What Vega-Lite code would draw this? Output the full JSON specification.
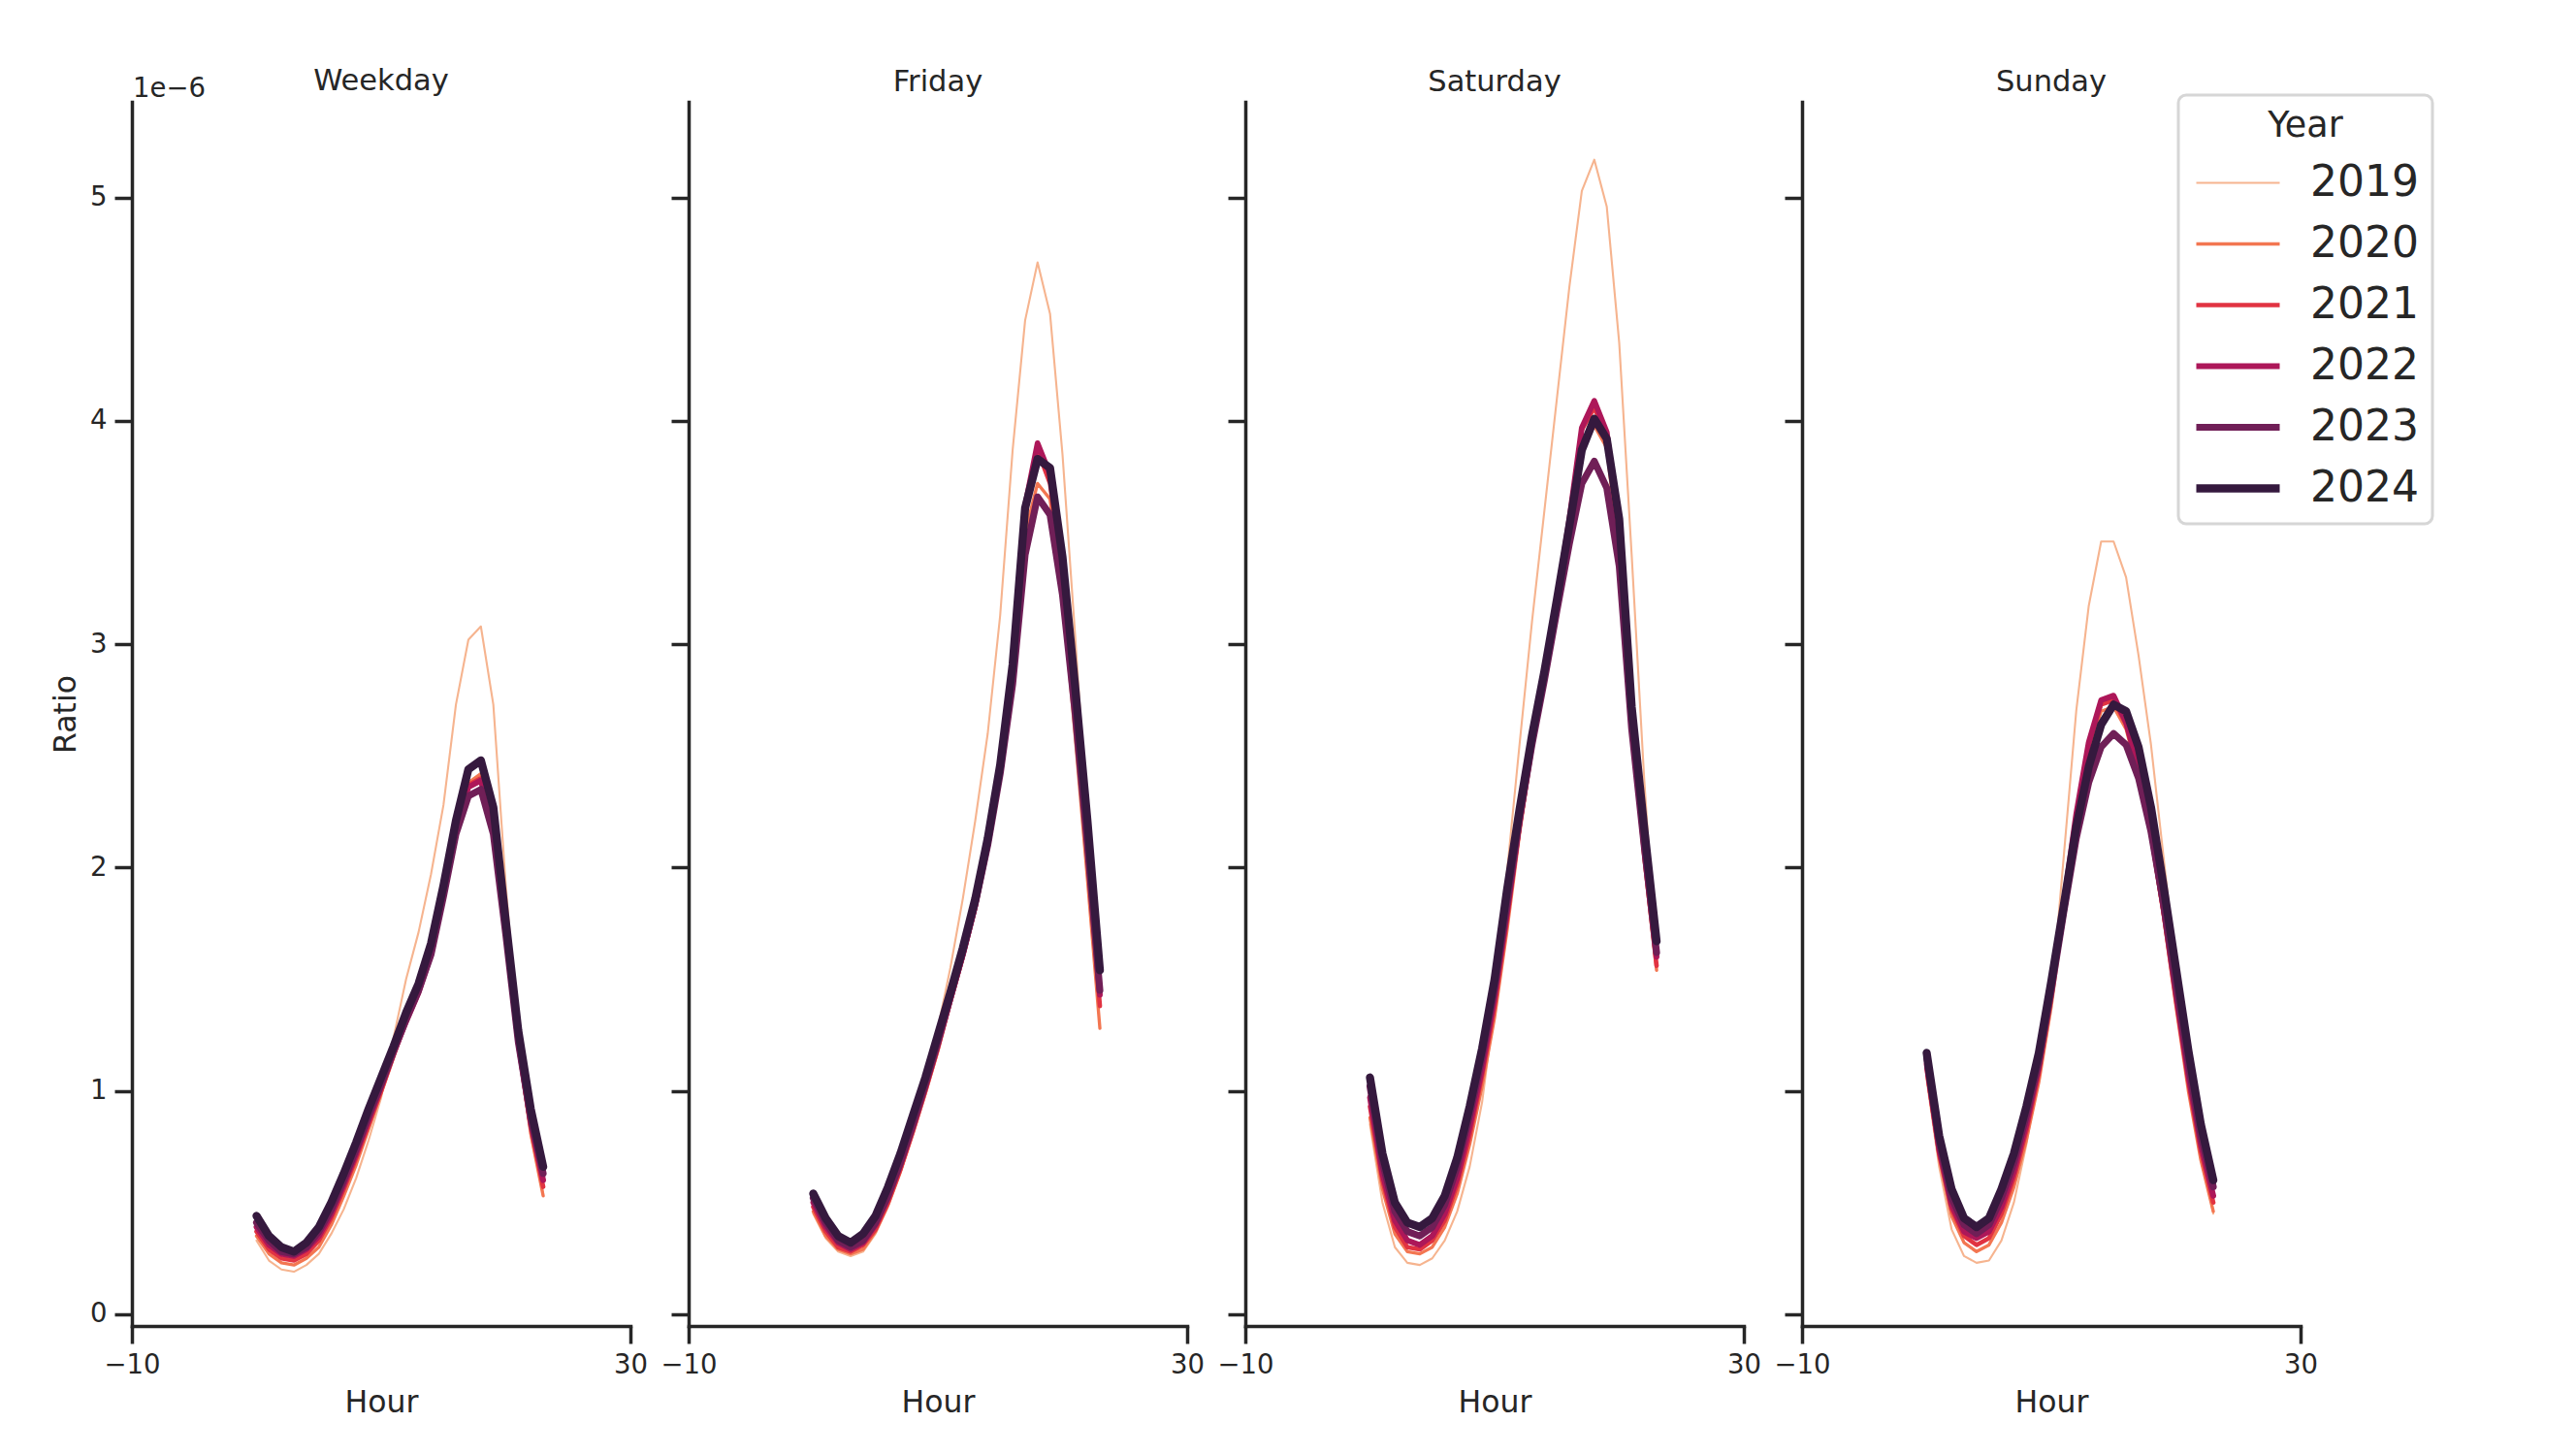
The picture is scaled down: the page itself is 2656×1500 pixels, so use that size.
{
"$schema": "https://vega.github.io/schema/vega-lite/v6.json",
"background": "white",
"padding": {"left": 52, "top": 68, "right": 20, "bottom": 20},
"bounds": "flush",
"spacing": 60,
"data": {"values": [
{"Day":"Weekday","Year":2019,"Hour":0,"Ratio":0.33e-6},{"Day":"Weekday","Year":2019,"Hour":1,"Ratio":0.24e-6},{"Day":"Weekday","Year":2019,"Hour":2,"Ratio":0.20e-6},{"Day":"Weekday","Year":2019,"Hour":3,"Ratio":0.19e-6},{"Day":"Weekday","Year":2019,"Hour":4,"Ratio":0.22e-6},{"Day":"Weekday","Year":2019,"Hour":5,"Ratio":0.27e-6},{"Day":"Weekday","Year":2019,"Hour":6,"Ratio":0.36e-6},{"Day":"Weekday","Year":2019,"Hour":7,"Ratio":0.47e-6},{"Day":"Weekday","Year":2019,"Hour":8,"Ratio":0.61e-6},{"Day":"Weekday","Year":2019,"Hour":9,"Ratio":0.78e-6},{"Day":"Weekday","Year":2019,"Hour":10,"Ratio":0.97e-6},{"Day":"Weekday","Year":2019,"Hour":11,"Ratio":1.24e-6},{"Day":"Weekday","Year":2019,"Hour":12,"Ratio":1.50e-6},{"Day":"Weekday","Year":2019,"Hour":13,"Ratio":1.71e-6},{"Day":"Weekday","Year":2019,"Hour":14,"Ratio":1.97e-6},{"Day":"Weekday","Year":2019,"Hour":15,"Ratio":2.28e-6},{"Day":"Weekday","Year":2019,"Hour":16,"Ratio":2.73e-6},{"Day":"Weekday","Year":2019,"Hour":17,"Ratio":3.02e-6},{"Day":"Weekday","Year":2019,"Hour":18,"Ratio":3.08e-6},{"Day":"Weekday","Year":2019,"Hour":19,"Ratio":2.73e-6},{"Day":"Weekday","Year":2019,"Hour":20,"Ratio":1.92e-6},{"Day":"Weekday","Year":2019,"Hour":21,"Ratio":1.25e-6},{"Day":"Weekday","Year":2019,"Hour":22,"Ratio":0.80e-6},{"Day":"Weekday","Year":2019,"Hour":23,"Ratio":0.54e-6},
{"Day":"Weekday","Year":2020,"Hour":0,"Ratio":0.35e-6},{"Day":"Weekday","Year":2020,"Hour":1,"Ratio":0.27e-6},{"Day":"Weekday","Year":2020,"Hour":2,"Ratio":0.23e-6},{"Day":"Weekday","Year":2020,"Hour":3,"Ratio":0.22e-6},{"Day":"Weekday","Year":2020,"Hour":4,"Ratio":0.25e-6},{"Day":"Weekday","Year":2020,"Hour":5,"Ratio":0.30e-6},{"Day":"Weekday","Year":2020,"Hour":6,"Ratio":0.40e-6},{"Day":"Weekday","Year":2020,"Hour":7,"Ratio":0.53e-6},{"Day":"Weekday","Year":2020,"Hour":8,"Ratio":0.67e-6},{"Day":"Weekday","Year":2020,"Hour":9,"Ratio":0.83e-6},{"Day":"Weekday","Year":2020,"Hour":10,"Ratio":0.99e-6},{"Day":"Weekday","Year":2020,"Hour":11,"Ratio":1.15e-6},{"Day":"Weekday","Year":2020,"Hour":12,"Ratio":1.31e-6},{"Day":"Weekday","Year":2020,"Hour":13,"Ratio":1.45e-6},{"Day":"Weekday","Year":2020,"Hour":14,"Ratio":1.63e-6},{"Day":"Weekday","Year":2020,"Hour":15,"Ratio":1.90e-6},{"Day":"Weekday","Year":2020,"Hour":16,"Ratio":2.20e-6},{"Day":"Weekday","Year":2020,"Hour":17,"Ratio":2.38e-6},{"Day":"Weekday","Year":2020,"Hour":18,"Ratio":2.42e-6},{"Day":"Weekday","Year":2020,"Hour":19,"Ratio":2.22e-6},{"Day":"Weekday","Year":2020,"Hour":20,"Ratio":1.72e-6},{"Day":"Weekday","Year":2020,"Hour":21,"Ratio":1.19e-6},{"Day":"Weekday","Year":2020,"Hour":22,"Ratio":0.81e-6},{"Day":"Weekday","Year":2020,"Hour":23,"Ratio":0.53e-6},
{"Day":"Weekday","Year":2021,"Hour":0,"Ratio":0.37e-6},{"Day":"Weekday","Year":2021,"Hour":1,"Ratio":0.29e-6},{"Day":"Weekday","Year":2021,"Hour":2,"Ratio":0.25e-6},{"Day":"Weekday","Year":2021,"Hour":3,"Ratio":0.24e-6},{"Day":"Weekday","Year":2021,"Hour":4,"Ratio":0.27e-6},{"Day":"Weekday","Year":2021,"Hour":5,"Ratio":0.33e-6},{"Day":"Weekday","Year":2021,"Hour":6,"Ratio":0.43e-6},{"Day":"Weekday","Year":2021,"Hour":7,"Ratio":0.56e-6},{"Day":"Weekday","Year":2021,"Hour":8,"Ratio":0.70e-6},{"Day":"Weekday","Year":2021,"Hour":9,"Ratio":0.85e-6},{"Day":"Weekday","Year":2021,"Hour":10,"Ratio":1.00e-6},{"Day":"Weekday","Year":2021,"Hour":11,"Ratio":1.16e-6},{"Day":"Weekday","Year":2021,"Hour":12,"Ratio":1.31e-6},{"Day":"Weekday","Year":2021,"Hour":13,"Ratio":1.44e-6},{"Day":"Weekday","Year":2021,"Hour":14,"Ratio":1.61e-6},{"Day":"Weekday","Year":2021,"Hour":15,"Ratio":1.88e-6},{"Day":"Weekday","Year":2021,"Hour":16,"Ratio":2.18e-6},{"Day":"Weekday","Year":2021,"Hour":17,"Ratio":2.37e-6},{"Day":"Weekday","Year":2021,"Hour":18,"Ratio":2.40e-6},{"Day":"Weekday","Year":2021,"Hour":19,"Ratio":2.20e-6},{"Day":"Weekday","Year":2021,"Hour":20,"Ratio":1.72e-6},{"Day":"Weekday","Year":2021,"Hour":21,"Ratio":1.21e-6},{"Day":"Weekday","Year":2021,"Hour":22,"Ratio":0.84e-6},{"Day":"Weekday","Year":2021,"Hour":23,"Ratio":0.57e-6},
{"Day":"Weekday","Year":2022,"Hour":0,"Ratio":0.39e-6},{"Day":"Weekday","Year":2022,"Hour":1,"Ratio":0.31e-6},{"Day":"Weekday","Year":2022,"Hour":2,"Ratio":0.27e-6},{"Day":"Weekday","Year":2022,"Hour":3,"Ratio":0.26e-6},{"Day":"Weekday","Year":2022,"Hour":4,"Ratio":0.29e-6},{"Day":"Weekday","Year":2022,"Hour":5,"Ratio":0.35e-6},{"Day":"Weekday","Year":2022,"Hour":6,"Ratio":0.45e-6},{"Day":"Weekday","Year":2022,"Hour":7,"Ratio":0.58e-6},{"Day":"Weekday","Year":2022,"Hour":8,"Ratio":0.72e-6},{"Day":"Weekday","Year":2022,"Hour":9,"Ratio":0.87e-6},{"Day":"Weekday","Year":2022,"Hour":10,"Ratio":1.02e-6},{"Day":"Weekday","Year":2022,"Hour":11,"Ratio":1.17e-6},{"Day":"Weekday","Year":2022,"Hour":12,"Ratio":1.31e-6},{"Day":"Weekday","Year":2022,"Hour":13,"Ratio":1.44e-6},{"Day":"Weekday","Year":2022,"Hour":14,"Ratio":1.61e-6},{"Day":"Weekday","Year":2022,"Hour":15,"Ratio":1.88e-6},{"Day":"Weekday","Year":2022,"Hour":16,"Ratio":2.17e-6},{"Day":"Weekday","Year":2022,"Hour":17,"Ratio":2.36e-6},{"Day":"Weekday","Year":2022,"Hour":18,"Ratio":2.39e-6},{"Day":"Weekday","Year":2022,"Hour":19,"Ratio":2.19e-6},{"Day":"Weekday","Year":2022,"Hour":20,"Ratio":1.72e-6},{"Day":"Weekday","Year":2022,"Hour":21,"Ratio":1.22e-6},{"Day":"Weekday","Year":2022,"Hour":22,"Ratio":0.86e-6},{"Day":"Weekday","Year":2022,"Hour":23,"Ratio":0.60e-6},
{"Day":"Weekday","Year":2023,"Hour":0,"Ratio":0.41e-6},{"Day":"Weekday","Year":2023,"Hour":1,"Ratio":0.33e-6},{"Day":"Weekday","Year":2023,"Hour":2,"Ratio":0.28e-6},{"Day":"Weekday","Year":2023,"Hour":3,"Ratio":0.27e-6},{"Day":"Weekday","Year":2023,"Hour":4,"Ratio":0.30e-6},{"Day":"Weekday","Year":2023,"Hour":5,"Ratio":0.37e-6},{"Day":"Weekday","Year":2023,"Hour":6,"Ratio":0.47e-6},{"Day":"Weekday","Year":2023,"Hour":7,"Ratio":0.60e-6},{"Day":"Weekday","Year":2023,"Hour":8,"Ratio":0.74e-6},{"Day":"Weekday","Year":2023,"Hour":9,"Ratio":0.89e-6},{"Day":"Weekday","Year":2023,"Hour":10,"Ratio":1.03e-6},{"Day":"Weekday","Year":2023,"Hour":11,"Ratio":1.18e-6},{"Day":"Weekday","Year":2023,"Hour":12,"Ratio":1.32e-6},{"Day":"Weekday","Year":2023,"Hour":13,"Ratio":1.45e-6},{"Day":"Weekday","Year":2023,"Hour":14,"Ratio":1.61e-6},{"Day":"Weekday","Year":2023,"Hour":15,"Ratio":1.87e-6},{"Day":"Weekday","Year":2023,"Hour":16,"Ratio":2.15e-6},{"Day":"Weekday","Year":2023,"Hour":17,"Ratio":2.32e-6},{"Day":"Weekday","Year":2023,"Hour":18,"Ratio":2.35e-6},{"Day":"Weekday","Year":2023,"Hour":19,"Ratio":2.15e-6},{"Day":"Weekday","Year":2023,"Hour":20,"Ratio":1.70e-6},{"Day":"Weekday","Year":2023,"Hour":21,"Ratio":1.22e-6},{"Day":"Weekday","Year":2023,"Hour":22,"Ratio":0.88e-6},{"Day":"Weekday","Year":2023,"Hour":23,"Ratio":0.63e-6},
{"Day":"Weekday","Year":2024,"Hour":0,"Ratio":0.44e-6},{"Day":"Weekday","Year":2024,"Hour":1,"Ratio":0.35e-6},{"Day":"Weekday","Year":2024,"Hour":2,"Ratio":0.30e-6},{"Day":"Weekday","Year":2024,"Hour":3,"Ratio":0.28e-6},{"Day":"Weekday","Year":2024,"Hour":4,"Ratio":0.32e-6},{"Day":"Weekday","Year":2024,"Hour":5,"Ratio":0.39e-6},{"Day":"Weekday","Year":2024,"Hour":6,"Ratio":0.50e-6},{"Day":"Weekday","Year":2024,"Hour":7,"Ratio":0.63e-6},{"Day":"Weekday","Year":2024,"Hour":8,"Ratio":0.77e-6},{"Day":"Weekday","Year":2024,"Hour":9,"Ratio":0.92e-6},{"Day":"Weekday","Year":2024,"Hour":10,"Ratio":1.06e-6},{"Day":"Weekday","Year":2024,"Hour":11,"Ratio":1.20e-6},{"Day":"Weekday","Year":2024,"Hour":12,"Ratio":1.35e-6},{"Day":"Weekday","Year":2024,"Hour":13,"Ratio":1.48e-6},{"Day":"Weekday","Year":2024,"Hour":14,"Ratio":1.66e-6},{"Day":"Weekday","Year":2024,"Hour":15,"Ratio":1.92e-6},{"Day":"Weekday","Year":2024,"Hour":16,"Ratio":2.21e-6},{"Day":"Weekday","Year":2024,"Hour":17,"Ratio":2.44e-6},{"Day":"Weekday","Year":2024,"Hour":18,"Ratio":2.48e-6},{"Day":"Weekday","Year":2024,"Hour":19,"Ratio":2.27e-6},{"Day":"Weekday","Year":2024,"Hour":20,"Ratio":1.76e-6},{"Day":"Weekday","Year":2024,"Hour":21,"Ratio":1.27e-6},{"Day":"Weekday","Year":2024,"Hour":22,"Ratio":0.92e-6},{"Day":"Weekday","Year":2024,"Hour":23,"Ratio":0.66e-6},
{"Day":"Friday","Year":2019,"Hour":0,"Ratio":0.45e-6},{"Day":"Friday","Year":2019,"Hour":1,"Ratio":0.34e-6},{"Day":"Friday","Year":2019,"Hour":2,"Ratio":0.28e-6},{"Day":"Friday","Year":2019,"Hour":3,"Ratio":0.26e-6},{"Day":"Friday","Year":2019,"Hour":4,"Ratio":0.28e-6},{"Day":"Friday","Year":2019,"Hour":5,"Ratio":0.36e-6},{"Day":"Friday","Year":2019,"Hour":6,"Ratio":0.48e-6},{"Day":"Friday","Year":2019,"Hour":7,"Ratio":0.63e-6},{"Day":"Friday","Year":2019,"Hour":8,"Ratio":0.82e-6},{"Day":"Friday","Year":2019,"Hour":9,"Ratio":1.04e-6},{"Day":"Friday","Year":2019,"Hour":10,"Ratio":1.28e-6},{"Day":"Friday","Year":2019,"Hour":11,"Ratio":1.55e-6},{"Day":"Friday","Year":2019,"Hour":12,"Ratio":1.86e-6},{"Day":"Friday","Year":2019,"Hour":13,"Ratio":2.21e-6},{"Day":"Friday","Year":2019,"Hour":14,"Ratio":2.60e-6},{"Day":"Friday","Year":2019,"Hour":15,"Ratio":3.13e-6},{"Day":"Friday","Year":2019,"Hour":16,"Ratio":3.87e-6},{"Day":"Friday","Year":2019,"Hour":17,"Ratio":4.45e-6},{"Day":"Friday","Year":2019,"Hour":18,"Ratio":4.71e-6},{"Day":"Friday","Year":2019,"Hour":19,"Ratio":4.48e-6},{"Day":"Friday","Year":2019,"Hour":20,"Ratio":3.85e-6},{"Day":"Friday","Year":2019,"Hour":21,"Ratio":3.05e-6},{"Day":"Friday","Year":2019,"Hour":22,"Ratio":2.20e-6},{"Day":"Friday","Year":2019,"Hour":23,"Ratio":1.40e-6},
{"Day":"Friday","Year":2020,"Hour":0,"Ratio":0.46e-6},{"Day":"Friday","Year":2020,"Hour":1,"Ratio":0.35e-6},{"Day":"Friday","Year":2020,"Hour":2,"Ratio":0.29e-6},{"Day":"Friday","Year":2020,"Hour":3,"Ratio":0.27e-6},{"Day":"Friday","Year":2020,"Hour":4,"Ratio":0.29e-6},{"Day":"Friday","Year":2020,"Hour":5,"Ratio":0.37e-6},{"Day":"Friday","Year":2020,"Hour":6,"Ratio":0.49e-6},{"Day":"Friday","Year":2020,"Hour":7,"Ratio":0.64e-6},{"Day":"Friday","Year":2020,"Hour":8,"Ratio":0.81e-6},{"Day":"Friday","Year":2020,"Hour":9,"Ratio":0.99e-6},{"Day":"Friday","Year":2020,"Hour":10,"Ratio":1.18e-6},{"Day":"Friday","Year":2020,"Hour":11,"Ratio":1.39e-6},{"Day":"Friday","Year":2020,"Hour":12,"Ratio":1.59e-6},{"Day":"Friday","Year":2020,"Hour":13,"Ratio":1.81e-6},{"Day":"Friday","Year":2020,"Hour":14,"Ratio":2.08e-6},{"Day":"Friday","Year":2020,"Hour":15,"Ratio":2.42e-6},{"Day":"Friday","Year":2020,"Hour":16,"Ratio":2.86e-6},{"Day":"Friday","Year":2020,"Hour":17,"Ratio":3.50e-6},{"Day":"Friday","Year":2020,"Hour":18,"Ratio":3.72e-6},{"Day":"Friday","Year":2020,"Hour":19,"Ratio":3.65e-6},{"Day":"Friday","Year":2020,"Hour":20,"Ratio":3.22e-6},{"Day":"Friday","Year":2020,"Hour":21,"Ratio":2.60e-6},{"Day":"Friday","Year":2020,"Hour":22,"Ratio":1.95e-6},{"Day":"Friday","Year":2020,"Hour":23,"Ratio":1.28e-6},
{"Day":"Friday","Year":2021,"Hour":0,"Ratio":0.48e-6},{"Day":"Friday","Year":2021,"Hour":1,"Ratio":0.37e-6},{"Day":"Friday","Year":2021,"Hour":2,"Ratio":0.30e-6},{"Day":"Friday","Year":2021,"Hour":3,"Ratio":0.28e-6},{"Day":"Friday","Year":2021,"Hour":4,"Ratio":0.31e-6},{"Day":"Friday","Year":2021,"Hour":5,"Ratio":0.38e-6},{"Day":"Friday","Year":2021,"Hour":6,"Ratio":0.50e-6},{"Day":"Friday","Year":2021,"Hour":7,"Ratio":0.65e-6},{"Day":"Friday","Year":2021,"Hour":8,"Ratio":0.82e-6},{"Day":"Friday","Year":2021,"Hour":9,"Ratio":1.00e-6},{"Day":"Friday","Year":2021,"Hour":10,"Ratio":1.19e-6},{"Day":"Friday","Year":2021,"Hour":11,"Ratio":1.40e-6},{"Day":"Friday","Year":2021,"Hour":12,"Ratio":1.60e-6},{"Day":"Friday","Year":2021,"Hour":13,"Ratio":1.82e-6},{"Day":"Friday","Year":2021,"Hour":14,"Ratio":2.09e-6},{"Day":"Friday","Year":2021,"Hour":15,"Ratio":2.43e-6},{"Day":"Friday","Year":2021,"Hour":16,"Ratio":2.89e-6},{"Day":"Friday","Year":2021,"Hour":17,"Ratio":3.60e-6},{"Day":"Friday","Year":2021,"Hour":18,"Ratio":3.87e-6},{"Day":"Friday","Year":2021,"Hour":19,"Ratio":3.72e-6},{"Day":"Friday","Year":2021,"Hour":20,"Ratio":3.30e-6},{"Day":"Friday","Year":2021,"Hour":21,"Ratio":2.70e-6},{"Day":"Friday","Year":2021,"Hour":22,"Ratio":2.05e-6},{"Day":"Friday","Year":2021,"Hour":23,"Ratio":1.38e-6},
{"Day":"Friday","Year":2022,"Hour":0,"Ratio":0.50e-6},{"Day":"Friday","Year":2022,"Hour":1,"Ratio":0.39e-6},{"Day":"Friday","Year":2022,"Hour":2,"Ratio":0.32e-6},{"Day":"Friday","Year":2022,"Hour":3,"Ratio":0.29e-6},{"Day":"Friday","Year":2022,"Hour":4,"Ratio":0.32e-6},{"Day":"Friday","Year":2022,"Hour":5,"Ratio":0.40e-6},{"Day":"Friday","Year":2022,"Hour":6,"Ratio":0.52e-6},{"Day":"Friday","Year":2022,"Hour":7,"Ratio":0.67e-6},{"Day":"Friday","Year":2022,"Hour":8,"Ratio":0.84e-6},{"Day":"Friday","Year":2022,"Hour":9,"Ratio":1.02e-6},{"Day":"Friday","Year":2022,"Hour":10,"Ratio":1.21e-6},{"Day":"Friday","Year":2022,"Hour":11,"Ratio":1.41e-6},{"Day":"Friday","Year":2022,"Hour":12,"Ratio":1.61e-6},{"Day":"Friday","Year":2022,"Hour":13,"Ratio":1.83e-6},{"Day":"Friday","Year":2022,"Hour":14,"Ratio":2.10e-6},{"Day":"Friday","Year":2022,"Hour":15,"Ratio":2.44e-6},{"Day":"Friday","Year":2022,"Hour":16,"Ratio":2.90e-6},{"Day":"Friday","Year":2022,"Hour":17,"Ratio":3.62e-6},{"Day":"Friday","Year":2022,"Hour":18,"Ratio":3.90e-6},{"Day":"Friday","Year":2022,"Hour":19,"Ratio":3.76e-6},{"Day":"Friday","Year":2022,"Hour":20,"Ratio":3.35e-6},{"Day":"Friday","Year":2022,"Hour":21,"Ratio":2.75e-6},{"Day":"Friday","Year":2022,"Hour":22,"Ratio":2.12e-6},{"Day":"Friday","Year":2022,"Hour":23,"Ratio":1.43e-6},
{"Day":"Friday","Year":2023,"Hour":0,"Ratio":0.52e-6},{"Day":"Friday","Year":2023,"Hour":1,"Ratio":0.41e-6},{"Day":"Friday","Year":2023,"Hour":2,"Ratio":0.33e-6},{"Day":"Friday","Year":2023,"Hour":3,"Ratio":0.30e-6},{"Day":"Friday","Year":2023,"Hour":4,"Ratio":0.33e-6},{"Day":"Friday","Year":2023,"Hour":5,"Ratio":0.41e-6},{"Day":"Friday","Year":2023,"Hour":6,"Ratio":0.53e-6},{"Day":"Friday","Year":2023,"Hour":7,"Ratio":0.68e-6},{"Day":"Friday","Year":2023,"Hour":8,"Ratio":0.85e-6},{"Day":"Friday","Year":2023,"Hour":9,"Ratio":1.03e-6},{"Day":"Friday","Year":2023,"Hour":10,"Ratio":1.22e-6},{"Day":"Friday","Year":2023,"Hour":11,"Ratio":1.42e-6},{"Day":"Friday","Year":2023,"Hour":12,"Ratio":1.62e-6},{"Day":"Friday","Year":2023,"Hour":13,"Ratio":1.84e-6},{"Day":"Friday","Year":2023,"Hour":14,"Ratio":2.10e-6},{"Day":"Friday","Year":2023,"Hour":15,"Ratio":2.42e-6},{"Day":"Friday","Year":2023,"Hour":16,"Ratio":2.82e-6},{"Day":"Friday","Year":2023,"Hour":17,"Ratio":3.40e-6},{"Day":"Friday","Year":2023,"Hour":18,"Ratio":3.66e-6},{"Day":"Friday","Year":2023,"Hour":19,"Ratio":3.58e-6},{"Day":"Friday","Year":2023,"Hour":20,"Ratio":3.22e-6},{"Day":"Friday","Year":2023,"Hour":21,"Ratio":2.70e-6},{"Day":"Friday","Year":2023,"Hour":22,"Ratio":2.10e-6},{"Day":"Friday","Year":2023,"Hour":23,"Ratio":1.45e-6},
{"Day":"Friday","Year":2024,"Hour":0,"Ratio":0.54e-6},{"Day":"Friday","Year":2024,"Hour":1,"Ratio":0.43e-6},{"Day":"Friday","Year":2024,"Hour":2,"Ratio":0.35e-6},{"Day":"Friday","Year":2024,"Hour":3,"Ratio":0.32e-6},{"Day":"Friday","Year":2024,"Hour":4,"Ratio":0.36e-6},{"Day":"Friday","Year":2024,"Hour":5,"Ratio":0.44e-6},{"Day":"Friday","Year":2024,"Hour":6,"Ratio":0.57e-6},{"Day":"Friday","Year":2024,"Hour":7,"Ratio":0.72e-6},{"Day":"Friday","Year":2024,"Hour":8,"Ratio":0.89e-6},{"Day":"Friday","Year":2024,"Hour":9,"Ratio":1.06e-6},{"Day":"Friday","Year":2024,"Hour":10,"Ratio":1.25e-6},{"Day":"Friday","Year":2024,"Hour":11,"Ratio":1.44e-6},{"Day":"Friday","Year":2024,"Hour":12,"Ratio":1.64e-6},{"Day":"Friday","Year":2024,"Hour":13,"Ratio":1.86e-6},{"Day":"Friday","Year":2024,"Hour":14,"Ratio":2.13e-6},{"Day":"Friday","Year":2024,"Hour":15,"Ratio":2.46e-6},{"Day":"Friday","Year":2024,"Hour":16,"Ratio":2.91e-6},{"Day":"Friday","Year":2024,"Hour":17,"Ratio":3.61e-6},{"Day":"Friday","Year":2024,"Hour":18,"Ratio":3.83e-6},{"Day":"Friday","Year":2024,"Hour":19,"Ratio":3.79e-6},{"Day":"Friday","Year":2024,"Hour":20,"Ratio":3.39e-6},{"Day":"Friday","Year":2024,"Hour":21,"Ratio":2.82e-6},{"Day":"Friday","Year":2024,"Hour":22,"Ratio":2.21e-6},{"Day":"Friday","Year":2024,"Hour":23,"Ratio":1.54e-6},
{"Day":"Saturday","Year":2019,"Hour":0,"Ratio":0.85e-6},{"Day":"Saturday","Year":2019,"Hour":1,"Ratio":0.50e-6},{"Day":"Saturday","Year":2019,"Hour":2,"Ratio":0.30e-6},{"Day":"Saturday","Year":2019,"Hour":3,"Ratio":0.23e-6},{"Day":"Saturday","Year":2019,"Hour":4,"Ratio":0.22e-6},{"Day":"Saturday","Year":2019,"Hour":5,"Ratio":0.25e-6},{"Day":"Saturday","Year":2019,"Hour":6,"Ratio":0.33e-6},{"Day":"Saturday","Year":2019,"Hour":7,"Ratio":0.46e-6},{"Day":"Saturday","Year":2019,"Hour":8,"Ratio":0.66e-6},{"Day":"Saturday","Year":2019,"Hour":9,"Ratio":0.95e-6},{"Day":"Saturday","Year":2019,"Hour":10,"Ratio":1.38e-6},{"Day":"Saturday","Year":2019,"Hour":11,"Ratio":1.98e-6},{"Day":"Saturday","Year":2019,"Hour":12,"Ratio":2.55e-6},{"Day":"Saturday","Year":2019,"Hour":13,"Ratio":3.10e-6},{"Day":"Saturday","Year":2019,"Hour":14,"Ratio":3.60e-6},{"Day":"Saturday","Year":2019,"Hour":15,"Ratio":4.10e-6},{"Day":"Saturday","Year":2019,"Hour":16,"Ratio":4.60e-6},{"Day":"Saturday","Year":2019,"Hour":17,"Ratio":5.03e-6},{"Day":"Saturday","Year":2019,"Hour":18,"Ratio":5.17e-6},{"Day":"Saturday","Year":2019,"Hour":19,"Ratio":4.96e-6},{"Day":"Saturday","Year":2019,"Hour":20,"Ratio":4.35e-6},{"Day":"Saturday","Year":2019,"Hour":21,"Ratio":3.40e-6},{"Day":"Saturday","Year":2019,"Hour":22,"Ratio":2.40e-6},{"Day":"Saturday","Year":2019,"Hour":23,"Ratio":1.55e-6},
{"Day":"Saturday","Year":2020,"Hour":0,"Ratio":0.88e-6},{"Day":"Saturday","Year":2020,"Hour":1,"Ratio":0.56e-6},{"Day":"Saturday","Year":2020,"Hour":2,"Ratio":0.36e-6},{"Day":"Saturday","Year":2020,"Hour":3,"Ratio":0.28e-6},{"Day":"Saturday","Year":2020,"Hour":4,"Ratio":0.27e-6},{"Day":"Saturday","Year":2020,"Hour":5,"Ratio":0.30e-6},{"Day":"Saturday","Year":2020,"Hour":6,"Ratio":0.39e-6},{"Day":"Saturday","Year":2020,"Hour":7,"Ratio":0.54e-6},{"Day":"Saturday","Year":2020,"Hour":8,"Ratio":0.76e-6},{"Day":"Saturday","Year":2020,"Hour":9,"Ratio":1.02e-6},{"Day":"Saturday","Year":2020,"Hour":10,"Ratio":1.33e-6},{"Day":"Saturday","Year":2020,"Hour":11,"Ratio":1.72e-6},{"Day":"Saturday","Year":2020,"Hour":12,"Ratio":2.15e-6},{"Day":"Saturday","Year":2020,"Hour":13,"Ratio":2.52e-6},{"Day":"Saturday","Year":2020,"Hour":14,"Ratio":2.85e-6},{"Day":"Saturday","Year":2020,"Hour":15,"Ratio":3.19e-6},{"Day":"Saturday","Year":2020,"Hour":16,"Ratio":3.55e-6},{"Day":"Saturday","Year":2020,"Hour":17,"Ratio":3.90e-6},{"Day":"Saturday","Year":2020,"Hour":18,"Ratio":3.98e-6},{"Day":"Saturday","Year":2020,"Hour":19,"Ratio":3.88e-6},{"Day":"Saturday","Year":2020,"Hour":20,"Ratio":3.40e-6},{"Day":"Saturday","Year":2020,"Hour":21,"Ratio":2.62e-6},{"Day":"Saturday","Year":2020,"Hour":22,"Ratio":2.03e-6},{"Day":"Saturday","Year":2020,"Hour":23,"Ratio":1.54e-6},
{"Day":"Saturday","Year":2021,"Hour":0,"Ratio":0.93e-6},{"Day":"Saturday","Year":2021,"Hour":1,"Ratio":0.60e-6},{"Day":"Saturday","Year":2021,"Hour":2,"Ratio":0.39e-6},{"Day":"Saturday","Year":2021,"Hour":3,"Ratio":0.30e-6},{"Day":"Saturday","Year":2021,"Hour":4,"Ratio":0.29e-6},{"Day":"Saturday","Year":2021,"Hour":5,"Ratio":0.33e-6},{"Day":"Saturday","Year":2021,"Hour":6,"Ratio":0.42e-6},{"Day":"Saturday","Year":2021,"Hour":7,"Ratio":0.58e-6},{"Day":"Saturday","Year":2021,"Hour":8,"Ratio":0.80e-6},{"Day":"Saturday","Year":2021,"Hour":9,"Ratio":1.07e-6},{"Day":"Saturday","Year":2021,"Hour":10,"Ratio":1.38e-6},{"Day":"Saturday","Year":2021,"Hour":11,"Ratio":1.77e-6},{"Day":"Saturday","Year":2021,"Hour":12,"Ratio":2.18e-6},{"Day":"Saturday","Year":2021,"Hour":13,"Ratio":2.54e-6},{"Day":"Saturday","Year":2021,"Hour":14,"Ratio":2.86e-6},{"Day":"Saturday","Year":2021,"Hour":15,"Ratio":3.20e-6},{"Day":"Saturday","Year":2021,"Hour":16,"Ratio":3.56e-6},{"Day":"Saturday","Year":2021,"Hour":17,"Ratio":3.96e-6},{"Day":"Saturday","Year":2021,"Hour":18,"Ratio":4.06e-6},{"Day":"Saturday","Year":2021,"Hour":19,"Ratio":3.93e-6},{"Day":"Saturday","Year":2021,"Hour":20,"Ratio":3.46e-6},{"Day":"Saturday","Year":2021,"Hour":21,"Ratio":2.66e-6},{"Day":"Saturday","Year":2021,"Hour":22,"Ratio":2.06e-6},{"Day":"Saturday","Year":2021,"Hour":23,"Ratio":1.56e-6},
{"Day":"Saturday","Year":2022,"Hour":0,"Ratio":0.97e-6},{"Day":"Saturday","Year":2022,"Hour":1,"Ratio":0.63e-6},{"Day":"Saturday","Year":2022,"Hour":2,"Ratio":0.42e-6},{"Day":"Saturday","Year":2022,"Hour":3,"Ratio":0.33e-6},{"Day":"Saturday","Year":2022,"Hour":4,"Ratio":0.31e-6},{"Day":"Saturday","Year":2022,"Hour":5,"Ratio":0.35e-6},{"Day":"Saturday","Year":2022,"Hour":6,"Ratio":0.45e-6},{"Day":"Saturday","Year":2022,"Hour":7,"Ratio":0.61e-6},{"Day":"Saturday","Year":2022,"Hour":8,"Ratio":0.84e-6},{"Day":"Saturday","Year":2022,"Hour":9,"Ratio":1.10e-6},{"Day":"Saturday","Year":2022,"Hour":10,"Ratio":1.42e-6},{"Day":"Saturday","Year":2022,"Hour":11,"Ratio":1.80e-6},{"Day":"Saturday","Year":2022,"Hour":12,"Ratio":2.20e-6},{"Day":"Saturday","Year":2022,"Hour":13,"Ratio":2.55e-6},{"Day":"Saturday","Year":2022,"Hour":14,"Ratio":2.86e-6},{"Day":"Saturday","Year":2022,"Hour":15,"Ratio":3.20e-6},{"Day":"Saturday","Year":2022,"Hour":16,"Ratio":3.56e-6},{"Day":"Saturday","Year":2022,"Hour":17,"Ratio":3.97e-6},{"Day":"Saturday","Year":2022,"Hour":18,"Ratio":4.09e-6},{"Day":"Saturday","Year":2022,"Hour":19,"Ratio":3.95e-6},{"Day":"Saturday","Year":2022,"Hour":20,"Ratio":3.50e-6},{"Day":"Saturday","Year":2022,"Hour":21,"Ratio":2.70e-6},{"Day":"Saturday","Year":2022,"Hour":22,"Ratio":2.10e-6},{"Day":"Saturday","Year":2022,"Hour":23,"Ratio":1.60e-6},
{"Day":"Saturday","Year":2023,"Hour":0,"Ratio":1.02e-6},{"Day":"Saturday","Year":2023,"Hour":1,"Ratio":0.68e-6},{"Day":"Saturday","Year":2023,"Hour":2,"Ratio":0.46e-6},{"Day":"Saturday","Year":2023,"Hour":3,"Ratio":0.37e-6},{"Day":"Saturday","Year":2023,"Hour":4,"Ratio":0.35e-6},{"Day":"Saturday","Year":2023,"Hour":5,"Ratio":0.39e-6},{"Day":"Saturday","Year":2023,"Hour":6,"Ratio":0.49e-6},{"Day":"Saturday","Year":2023,"Hour":7,"Ratio":0.66e-6},{"Day":"Saturday","Year":2023,"Hour":8,"Ratio":0.89e-6},{"Day":"Saturday","Year":2023,"Hour":9,"Ratio":1.15e-6},{"Day":"Saturday","Year":2023,"Hour":10,"Ratio":1.46e-6},{"Day":"Saturday","Year":2023,"Hour":11,"Ratio":1.84e-6},{"Day":"Saturday","Year":2023,"Hour":12,"Ratio":2.22e-6},{"Day":"Saturday","Year":2023,"Hour":13,"Ratio":2.55e-6},{"Day":"Saturday","Year":2023,"Hour":14,"Ratio":2.84e-6},{"Day":"Saturday","Year":2023,"Hour":15,"Ratio":3.15e-6},{"Day":"Saturday","Year":2023,"Hour":16,"Ratio":3.45e-6},{"Day":"Saturday","Year":2023,"Hour":17,"Ratio":3.72e-6},{"Day":"Saturday","Year":2023,"Hour":18,"Ratio":3.82e-6},{"Day":"Saturday","Year":2023,"Hour":19,"Ratio":3.70e-6},{"Day":"Saturday","Year":2023,"Hour":20,"Ratio":3.35e-6},{"Day":"Saturday","Year":2023,"Hour":21,"Ratio":2.62e-6},{"Day":"Saturday","Year":2023,"Hour":22,"Ratio":2.10e-6},{"Day":"Saturday","Year":2023,"Hour":23,"Ratio":1.62e-6},
{"Day":"Saturday","Year":2024,"Hour":0,"Ratio":1.06e-6},{"Day":"Saturday","Year":2024,"Hour":1,"Ratio":0.72e-6},{"Day":"Saturday","Year":2024,"Hour":2,"Ratio":0.50e-6},{"Day":"Saturday","Year":2024,"Hour":3,"Ratio":0.41e-6},{"Day":"Saturday","Year":2024,"Hour":4,"Ratio":0.39e-6},{"Day":"Saturday","Year":2024,"Hour":5,"Ratio":0.43e-6},{"Day":"Saturday","Year":2024,"Hour":6,"Ratio":0.53e-6},{"Day":"Saturday","Year":2024,"Hour":7,"Ratio":0.70e-6},{"Day":"Saturday","Year":2024,"Hour":8,"Ratio":0.93e-6},{"Day":"Saturday","Year":2024,"Hour":9,"Ratio":1.19e-6},{"Day":"Saturday","Year":2024,"Hour":10,"Ratio":1.50e-6},{"Day":"Saturday","Year":2024,"Hour":11,"Ratio":1.90e-6},{"Day":"Saturday","Year":2024,"Hour":12,"Ratio":2.26e-6},{"Day":"Saturday","Year":2024,"Hour":13,"Ratio":2.59e-6},{"Day":"Saturday","Year":2024,"Hour":14,"Ratio":2.88e-6},{"Day":"Saturday","Year":2024,"Hour":15,"Ratio":3.20e-6},{"Day":"Saturday","Year":2024,"Hour":16,"Ratio":3.53e-6},{"Day":"Saturday","Year":2024,"Hour":17,"Ratio":3.87e-6},{"Day":"Saturday","Year":2024,"Hour":18,"Ratio":4.01e-6},{"Day":"Saturday","Year":2024,"Hour":19,"Ratio":3.92e-6},{"Day":"Saturday","Year":2024,"Hour":20,"Ratio":3.56e-6},{"Day":"Saturday","Year":2024,"Hour":21,"Ratio":2.72e-6},{"Day":"Saturday","Year":2024,"Hour":22,"Ratio":2.18e-6},{"Day":"Saturday","Year":2024,"Hour":23,"Ratio":1.67e-6},
{"Day":"Sunday","Year":2019,"Hour":0,"Ratio":1.05e-6},{"Day":"Sunday","Year":2019,"Hour":1,"Ratio":0.66e-6},{"Day":"Sunday","Year":2019,"Hour":2,"Ratio":0.38e-6},{"Day":"Sunday","Year":2019,"Hour":3,"Ratio":0.26e-6},{"Day":"Sunday","Year":2019,"Hour":4,"Ratio":0.23e-6},{"Day":"Sunday","Year":2019,"Hour":5,"Ratio":0.24e-6},{"Day":"Sunday","Year":2019,"Hour":6,"Ratio":0.33e-6},{"Day":"Sunday","Year":2019,"Hour":7,"Ratio":0.50e-6},{"Day":"Sunday","Year":2019,"Hour":8,"Ratio":0.76e-6},{"Day":"Sunday","Year":2019,"Hour":9,"Ratio":1.08e-6},{"Day":"Sunday","Year":2019,"Hour":10,"Ratio":1.40e-6},{"Day":"Sunday","Year":2019,"Hour":11,"Ratio":2.05e-6},{"Day":"Sunday","Year":2019,"Hour":12,"Ratio":2.70e-6},{"Day":"Sunday","Year":2019,"Hour":13,"Ratio":3.17e-6},{"Day":"Sunday","Year":2019,"Hour":14,"Ratio":3.46e-6},{"Day":"Sunday","Year":2019,"Hour":15,"Ratio":3.46e-6},{"Day":"Sunday","Year":2019,"Hour":16,"Ratio":3.30e-6},{"Day":"Sunday","Year":2019,"Hour":17,"Ratio":2.95e-6},{"Day":"Sunday","Year":2019,"Hour":18,"Ratio":2.55e-6},{"Day":"Sunday","Year":2019,"Hour":19,"Ratio":2.05e-6},{"Day":"Sunday","Year":2019,"Hour":20,"Ratio":1.55e-6},{"Day":"Sunday","Year":2019,"Hour":21,"Ratio":1.10e-6},{"Day":"Sunday","Year":2019,"Hour":22,"Ratio":0.74e-6},{"Day":"Sunday","Year":2019,"Hour":23,"Ratio":0.45e-6},
{"Day":"Sunday","Year":2020,"Hour":0,"Ratio":1.08e-6},{"Day":"Sunday","Year":2020,"Hour":1,"Ratio":0.70e-6},{"Day":"Sunday","Year":2020,"Hour":2,"Ratio":0.44e-6},{"Day":"Sunday","Year":2020,"Hour":3,"Ratio":0.32e-6},{"Day":"Sunday","Year":2020,"Hour":4,"Ratio":0.28e-6},{"Day":"Sunday","Year":2020,"Hour":5,"Ratio":0.31e-6},{"Day":"Sunday","Year":2020,"Hour":6,"Ratio":0.41e-6},{"Day":"Sunday","Year":2020,"Hour":7,"Ratio":0.57e-6},{"Day":"Sunday","Year":2020,"Hour":8,"Ratio":0.78e-6},{"Day":"Sunday","Year":2020,"Hour":9,"Ratio":1.04e-6},{"Day":"Sunday","Year":2020,"Hour":10,"Ratio":1.38e-6},{"Day":"Sunday","Year":2020,"Hour":11,"Ratio":1.79e-6},{"Day":"Sunday","Year":2020,"Hour":12,"Ratio":2.21e-6},{"Day":"Sunday","Year":2020,"Hour":13,"Ratio":2.53e-6},{"Day":"Sunday","Year":2020,"Hour":14,"Ratio":2.70e-6},{"Day":"Sunday","Year":2020,"Hour":15,"Ratio":2.72e-6},{"Day":"Sunday","Year":2020,"Hour":16,"Ratio":2.62e-6},{"Day":"Sunday","Year":2020,"Hour":17,"Ratio":2.41e-6},{"Day":"Sunday","Year":2020,"Hour":18,"Ratio":2.13e-6},{"Day":"Sunday","Year":2020,"Hour":19,"Ratio":1.78e-6},{"Day":"Sunday","Year":2020,"Hour":20,"Ratio":1.38e-6},{"Day":"Sunday","Year":2020,"Hour":21,"Ratio":1.00e-6},{"Day":"Sunday","Year":2020,"Hour":22,"Ratio":0.69e-6},{"Day":"Sunday","Year":2020,"Hour":23,"Ratio":0.46e-6},
{"Day":"Sunday","Year":2021,"Hour":0,"Ratio":1.10e-6},{"Day":"Sunday","Year":2021,"Hour":1,"Ratio":0.72e-6},{"Day":"Sunday","Year":2021,"Hour":2,"Ratio":0.47e-6},{"Day":"Sunday","Year":2021,"Hour":3,"Ratio":0.35e-6},{"Day":"Sunday","Year":2021,"Hour":4,"Ratio":0.31e-6},{"Day":"Sunday","Year":2021,"Hour":5,"Ratio":0.34e-6},{"Day":"Sunday","Year":2021,"Hour":6,"Ratio":0.45e-6},{"Day":"Sunday","Year":2021,"Hour":7,"Ratio":0.61e-6},{"Day":"Sunday","Year":2021,"Hour":8,"Ratio":0.82e-6},{"Day":"Sunday","Year":2021,"Hour":9,"Ratio":1.08e-6},{"Day":"Sunday","Year":2021,"Hour":10,"Ratio":1.42e-6},{"Day":"Sunday","Year":2021,"Hour":11,"Ratio":1.82e-6},{"Day":"Sunday","Year":2021,"Hour":12,"Ratio":2.23e-6},{"Day":"Sunday","Year":2021,"Hour":13,"Ratio":2.55e-6},{"Day":"Sunday","Year":2021,"Hour":14,"Ratio":2.73e-6},{"Day":"Sunday","Year":2021,"Hour":15,"Ratio":2.75e-6},{"Day":"Sunday","Year":2021,"Hour":16,"Ratio":2.64e-6},{"Day":"Sunday","Year":2021,"Hour":17,"Ratio":2.43e-6},{"Day":"Sunday","Year":2021,"Hour":18,"Ratio":2.15e-6},{"Day":"Sunday","Year":2021,"Hour":19,"Ratio":1.80e-6},{"Day":"Sunday","Year":2021,"Hour":20,"Ratio":1.41e-6},{"Day":"Sunday","Year":2021,"Hour":21,"Ratio":1.04e-6},{"Day":"Sunday","Year":2021,"Hour":22,"Ratio":0.73e-6},{"Day":"Sunday","Year":2021,"Hour":23,"Ratio":0.50e-6},
{"Day":"Sunday","Year":2022,"Hour":0,"Ratio":1.12e-6},{"Day":"Sunday","Year":2022,"Hour":1,"Ratio":0.74e-6},{"Day":"Sunday","Year":2022,"Hour":2,"Ratio":0.49e-6},{"Day":"Sunday","Year":2022,"Hour":3,"Ratio":0.37e-6},{"Day":"Sunday","Year":2022,"Hour":4,"Ratio":0.34e-6},{"Day":"Sunday","Year":2022,"Hour":5,"Ratio":0.37e-6},{"Day":"Sunday","Year":2022,"Hour":6,"Ratio":0.48e-6},{"Day":"Sunday","Year":2022,"Hour":7,"Ratio":0.64e-6},{"Day":"Sunday","Year":2022,"Hour":8,"Ratio":0.85e-6},{"Day":"Sunday","Year":2022,"Hour":9,"Ratio":1.11e-6},{"Day":"Sunday","Year":2022,"Hour":10,"Ratio":1.45e-6},{"Day":"Sunday","Year":2022,"Hour":11,"Ratio":1.84e-6},{"Day":"Sunday","Year":2022,"Hour":12,"Ratio":2.24e-6},{"Day":"Sunday","Year":2022,"Hour":13,"Ratio":2.56e-6},{"Day":"Sunday","Year":2022,"Hour":14,"Ratio":2.75e-6},{"Day":"Sunday","Year":2022,"Hour":15,"Ratio":2.77e-6},{"Day":"Sunday","Year":2022,"Hour":16,"Ratio":2.65e-6},{"Day":"Sunday","Year":2022,"Hour":17,"Ratio":2.45e-6},{"Day":"Sunday","Year":2022,"Hour":18,"Ratio":2.17e-6},{"Day":"Sunday","Year":2022,"Hour":19,"Ratio":1.82e-6},{"Day":"Sunday","Year":2022,"Hour":20,"Ratio":1.44e-6},{"Day":"Sunday","Year":2022,"Hour":21,"Ratio":1.07e-6},{"Day":"Sunday","Year":2022,"Hour":22,"Ratio":0.76e-6},{"Day":"Sunday","Year":2022,"Hour":23,"Ratio":0.53e-6},
{"Day":"Sunday","Year":2023,"Hour":0,"Ratio":1.15e-6},{"Day":"Sunday","Year":2023,"Hour":1,"Ratio":0.77e-6},{"Day":"Sunday","Year":2023,"Hour":2,"Ratio":0.52e-6},{"Day":"Sunday","Year":2023,"Hour":3,"Ratio":0.40e-6},{"Day":"Sunday","Year":2023,"Hour":4,"Ratio":0.36e-6},{"Day":"Sunday","Year":2023,"Hour":5,"Ratio":0.40e-6},{"Day":"Sunday","Year":2023,"Hour":6,"Ratio":0.52e-6},{"Day":"Sunday","Year":2023,"Hour":7,"Ratio":0.68e-6},{"Day":"Sunday","Year":2023,"Hour":8,"Ratio":0.89e-6},{"Day":"Sunday","Year":2023,"Hour":9,"Ratio":1.13e-6},{"Day":"Sunday","Year":2023,"Hour":10,"Ratio":1.45e-6},{"Day":"Sunday","Year":2023,"Hour":11,"Ratio":1.80e-6},{"Day":"Sunday","Year":2023,"Hour":12,"Ratio":2.13e-6},{"Day":"Sunday","Year":2023,"Hour":13,"Ratio":2.38e-6},{"Day":"Sunday","Year":2023,"Hour":14,"Ratio":2.54e-6},{"Day":"Sunday","Year":2023,"Hour":15,"Ratio":2.60e-6},{"Day":"Sunday","Year":2023,"Hour":16,"Ratio":2.55e-6},{"Day":"Sunday","Year":2023,"Hour":17,"Ratio":2.40e-6},{"Day":"Sunday","Year":2023,"Hour":18,"Ratio":2.16e-6},{"Day":"Sunday","Year":2023,"Hour":19,"Ratio":1.84e-6},{"Day":"Sunday","Year":2023,"Hour":20,"Ratio":1.48e-6},{"Day":"Sunday","Year":2023,"Hour":21,"Ratio":1.12e-6},{"Day":"Sunday","Year":2023,"Hour":22,"Ratio":0.80e-6},{"Day":"Sunday","Year":2023,"Hour":23,"Ratio":0.57e-6},
{"Day":"Sunday","Year":2024,"Hour":0,"Ratio":1.17e-6},{"Day":"Sunday","Year":2024,"Hour":1,"Ratio":0.80e-6},{"Day":"Sunday","Year":2024,"Hour":2,"Ratio":0.56e-6},{"Day":"Sunday","Year":2024,"Hour":3,"Ratio":0.43e-6},{"Day":"Sunday","Year":2024,"Hour":4,"Ratio":0.39e-6},{"Day":"Sunday","Year":2024,"Hour":5,"Ratio":0.43e-6},{"Day":"Sunday","Year":2024,"Hour":6,"Ratio":0.56e-6},{"Day":"Sunday","Year":2024,"Hour":7,"Ratio":0.72e-6},{"Day":"Sunday","Year":2024,"Hour":8,"Ratio":0.93e-6},{"Day":"Sunday","Year":2024,"Hour":9,"Ratio":1.17e-6},{"Day":"Sunday","Year":2024,"Hour":10,"Ratio":1.49e-6},{"Day":"Sunday","Year":2024,"Hour":11,"Ratio":1.83e-6},{"Day":"Sunday","Year":2024,"Hour":12,"Ratio":2.18e-6},{"Day":"Sunday","Year":2024,"Hour":13,"Ratio":2.45e-6},{"Day":"Sunday","Year":2024,"Hour":14,"Ratio":2.64e-6},{"Day":"Sunday","Year":2024,"Hour":15,"Ratio":2.73e-6},{"Day":"Sunday","Year":2024,"Hour":16,"Ratio":2.70e-6},{"Day":"Sunday","Year":2024,"Hour":17,"Ratio":2.54e-6},{"Day":"Sunday","Year":2024,"Hour":18,"Ratio":2.27e-6},{"Day":"Sunday","Year":2024,"Hour":19,"Ratio":1.92e-6},{"Day":"Sunday","Year":2024,"Hour":20,"Ratio":1.55e-6},{"Day":"Sunday","Year":2024,"Hour":21,"Ratio":1.18e-6},{"Day":"Sunday","Year":2024,"Hour":22,"Ratio":0.85e-6},{"Day":"Sunday","Year":2024,"Hour":23,"Ratio":0.60e-6}
]},
"config": {
  "font": "DejaVu Sans",
  "view": {"stroke": null},
  "axis": {
    "grid": false,
    "domainColor": "#262626", "domainWidth": 3.5, "domainCap": "square",
    "tickColor": "#262626", "tickWidth": 3.5, "tickSize": 18,
    "labelFont": "DejaVu Sans", "labelFontSize": 27.5, "labelColor": "#262626", "labelPadding": 8, "labelFlush": false, "labelOverlap": false,
    "titleFont": "DejaVu Sans", "titleFontSize": 31.5, "titleFontWeight": "normal", "titleColor": "#262626", "titlePadding": 8
  },
  "axisX": {"titlePadding": 10, "labelFlush": false},
  "title": {"font": "DejaVu Sans", "fontSize": 30.5, "fontWeight": "normal", "color": "#262626", "offset": 5, "anchor": "middle", "frame": "group"},
  "legend": {
    "orient": "none", "legendX": 2110, "legendY": -7,
    "padding": 14, "fillColor": "white", "strokeColor": "#d6d6d6", "strokeWidth": 3, "cornerRadius": 8,
    "titleFont": "DejaVu Sans", "titleFontSize": 36.5, "titleFontWeight": "normal", "titleColor": "#262626",
    "titleAnchor": "middle", "titleAlign": "center", "titlePadding": 18,
    "labelFont": "DejaVu Sans", "labelFontSize": 44, "labelColor": "#262626", "labelOffset": 27,
    "symbolType": "stroke", "symbolSize": 7396, "clipHeight": 44, "rowPadding": 19, "symbolOpacity": 1
  },
  "line": {"strokeCap": "round", "strokeJoin": "round"}
},
"hconcat": [
  {
    "width": 514, "height": 1262,
    "title": {"text": "Weekday", "frame": "group", "dy": 26},
    "layer": [
      {
        "transform": [{"filter": "datum.Day === 'Weekday'"}],
        "mark": {"type": "line"},
        "encoding": {
          "x": {"field": "Hour", "type": "quantitative", "scale": {"domain": [-10, 30], "nice": false, "zero": false}, "axis": {"values": [-10, 30], "title": "Hour", "labelFlush": false}},
          "y": {"field": "Ratio", "type": "quantitative", "scale": {"domain": [-0.053e-6, 5.429e-6], "nice": false, "zero": false}, "axis": {"values": [0, 1e-6, 2e-6, 3e-6, 4e-6, 5e-6], "labelExpr": "format(datum.value*1e6, 'd')", "title": "Ratio"}},
          "color": {"field": "Year", "type": "ordinal", "title": "Year", "scale": {"domain": [2019, 2020, 2021, 2022, 2023, 2024], "range": ["#f6b48f", "#f37651", "#e13342", "#ad1759", "#701f57", "#35193e"]}},
          "strokeWidth": {"field": "Year", "type": "ordinal", "title": "Year", "scale": {"type": "point", "padding": 0, "domain": [2019, 2020, 2021, 2022, 2023, 2024], "range": [2.1, 8.35]}}
        }
      },
      {
        "data": {"values": [{"label": "1e−6"}]},
        "mark": {"type": "text", "align": "left", "baseline": "alphabetic", "dx": 1, "dy": -5, "fontSize": 27.5, "font": "DejaVu Sans", "color": "#262626"},
        "encoding": {
          "x": {"datum": -10, "type": "quantitative"},
          "y": {"datum": 5.429e-6, "type": "quantitative"},
          "text": {"field": "label"}
        }
      }
    ]
  },
  {
    "width": 514, "height": 1262,
    "title": {"text": "Friday", "frame": "group"},
    "transform": [{"filter": "datum.Day === 'Friday'"}],
    "mark": {"type": "line"},
    "encoding": {
      "x": {"field": "Hour", "type": "quantitative", "scale": {"domain": [-10, 30], "nice": false, "zero": false}, "axis": {"values": [-10, 30], "title": "Hour", "labelFlush": false}},
      "y": {"field": "Ratio", "type": "quantitative", "scale": {"domain": [-0.053e-6, 5.429e-6], "nice": false, "zero": false}, "axis": {"values": [0, 1e-6, 2e-6, 3e-6, 4e-6, 5e-6], "labels": false, "title": null}},
      "color": {"field": "Year", "type": "ordinal", "title": "Year", "scale": {"domain": [2019, 2020, 2021, 2022, 2023, 2024], "range": ["#f6b48f", "#f37651", "#e13342", "#ad1759", "#701f57", "#35193e"]}},
      "strokeWidth": {"field": "Year", "type": "ordinal", "title": "Year", "scale": {"type": "point", "padding": 0, "domain": [2019, 2020, 2021, 2022, 2023, 2024], "range": [2.1, 8.35]}}
    }
  },
  {
    "width": 514, "height": 1262,
    "title": {"text": "Saturday", "frame": "group"},
    "transform": [{"filter": "datum.Day === 'Saturday'"}],
    "mark": {"type": "line"},
    "encoding": {
      "x": {"field": "Hour", "type": "quantitative", "scale": {"domain": [-10, 30], "nice": false, "zero": false}, "axis": {"values": [-10, 30], "title": "Hour", "labelFlush": false}},
      "y": {"field": "Ratio", "type": "quantitative", "scale": {"domain": [-0.053e-6, 5.429e-6], "nice": false, "zero": false}, "axis": {"values": [0, 1e-6, 2e-6, 3e-6, 4e-6, 5e-6], "labels": false, "title": null}},
      "color": {"field": "Year", "type": "ordinal", "title": "Year", "scale": {"domain": [2019, 2020, 2021, 2022, 2023, 2024], "range": ["#f6b48f", "#f37651", "#e13342", "#ad1759", "#701f57", "#35193e"]}},
      "strokeWidth": {"field": "Year", "type": "ordinal", "title": "Year", "scale": {"type": "point", "padding": 0, "domain": [2019, 2020, 2021, 2022, 2023, 2024], "range": [2.1, 8.35]}}
    }
  },
  {
    "width": 514, "height": 1262,
    "title": {"text": "Sunday", "frame": "group"},
    "transform": [{"filter": "datum.Day === 'Sunday'"}],
    "mark": {"type": "line"},
    "encoding": {
      "x": {"field": "Hour", "type": "quantitative", "scale": {"domain": [-10, 30], "nice": false, "zero": false}, "axis": {"values": [-10, 30], "title": "Hour", "labelFlush": false}},
      "y": {"field": "Ratio", "type": "quantitative", "scale": {"domain": [-0.053e-6, 5.429e-6], "nice": false, "zero": false}, "axis": {"values": [0, 1e-6, 2e-6, 3e-6, 4e-6, 5e-6], "labels": false, "title": null}},
      "color": {"field": "Year", "type": "ordinal", "title": "Year", "scale": {"domain": [2019, 2020, 2021, 2022, 2023, 2024], "range": ["#f6b48f", "#f37651", "#e13342", "#ad1759", "#701f57", "#35193e"]}},
      "strokeWidth": {"field": "Year", "type": "ordinal", "title": "Year", "scale": {"type": "point", "padding": 0, "domain": [2019, 2020, 2021, 2022, 2023, 2024], "range": [2.1, 8.35]}}
    }
  }
]
}
